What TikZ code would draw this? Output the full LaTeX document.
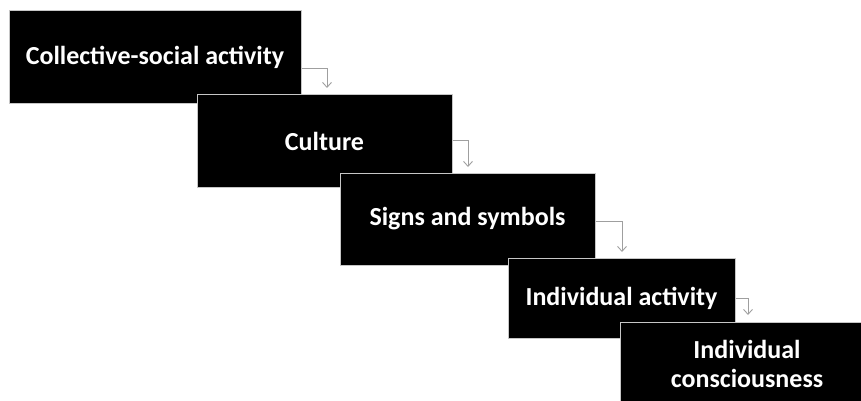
\documentclass[tikz,border=0pt]{standalone}
\usepackage{fontspec}
\setmainfont{Carlito}
\usetikzlibrary{arrows.meta, calc, positioning}

\tikzset{
  stagebox/.style={rectangle, fill=black, draw=gray!45, line width=1pt, inner sep=0pt,
    text=white, font=\fontsize{26}{29}\selectfont\bfseries, align=center},
  conn/.style={draw=gray!75, line width=0.9pt, -{Straight Barb[length=5pt,width=9pt]}}
}

\begin{document}
\begin{tikzpicture}[x=1pt,y=-1pt]
      % Frame
      \path[use as bounding box, clip] (0,0) rectangle (861,401);

      % Boxes
      \foreach \name/\pos/\w/\h/\txt in {
          b1/{155,57.5}/292pt/93pt/{Collective-social activity},
          b2/{324.5,141}/255pt/92pt/{Culture},
          b3/{467.5,219}/255pt/92pt/{Signs and symbols},
          b4/{621.5,298}/227pt/80pt/{Individual activity},
          b5/{747,364}/254pt/84pt/{Individual\\consciousness}} {
        \node[stagebox, minimum width=\w, minimum height=\h] (\name) at (\pos) {\txt};
      }

      % Arrow tips above the next box
      \coordinate (t1) at (327,88);
      \coordinate (t2) at (468,167);
      \coordinate (t3) at (622,252);
      \coordinate (t4) at (748,315);

      % Connectors
      \draw[conn] ([yshift=-10.5pt]b1.east) -| (t1);
      \draw[conn] ([yshift=1pt]b2.east) -| (t2);
      \draw[conn] ([yshift=-2pt]b3.east) -| (t3);
      \draw[conn] (b4.east) -| (t4);
\end{tikzpicture}
\end{document}
